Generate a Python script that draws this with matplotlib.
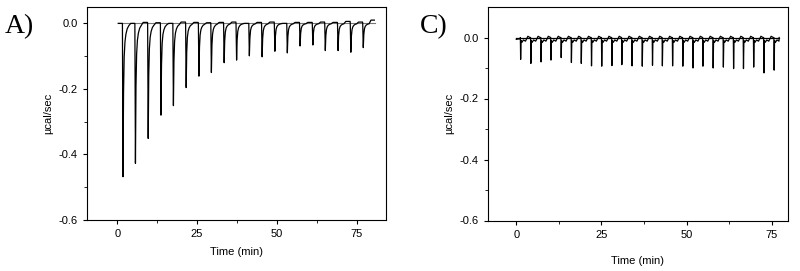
import numpy as np
import matplotlib.pyplot as plt

# panel A: injections every ~4 min, peak minima (ucal/sec)
a_times = [1.6, 5.5, 9.5, 13.5, 17.4, 21.4, 25.4, 29.3, 33.3, 37.2,
           41.2, 45.2, 49.2, 53.1, 57.1, 61.1, 65.0, 69.0, 73.0, 76.9]
a_depths = [-0.468, -0.427, -0.351, -0.280, -0.251, -0.196, -0.161, -0.150, -0.120, -0.112,
            -0.099, -0.102, -0.085, -0.090, -0.069, -0.066, -0.083, -0.083, -0.088, -0.074]
# value reached just before the next injection (small baseline drift)
a_rest = [0.000, 0.003, 0.002, 0.000, 0.004, 0.003, 0.002, 0.003, 0.004, 0.000,
          0.003, 0.004, 0.000, 0.003, 0.003, 0.004, 0.003, 0.006, 0.004, 0.010]
a_start, a_end = 0.3, 80.6
# recovery profile (time after injection, fraction of peak)
a_shape_dt = [0.0, 0.18, 0.35, 0.55, 0.8, 1.1, 1.5, 2.0, 2.6, 3.3]
a_shape_f = [0.0, 1.0, 0.45, 0.22, 0.12, 0.07, 0.035, 0.015, 0.0, 0.0]

# panel C: injections every ~3 min, small spikes
c_times = [1.2, 4.2, 7.2, 10.1, 13.1, 16.1, 19.0, 22.0, 25.0, 28.0,
           30.9, 33.9, 36.9, 39.9, 42.8, 45.8, 48.8, 51.8, 54.7, 57.7,
           60.7, 63.7, 66.6, 69.6, 72.6, 75.6]
c_depths = [-0.072, -0.085, -0.080, -0.074, -0.066, -0.082, -0.085, -0.093, -0.094, -0.092,
            -0.089, -0.093, -0.094, -0.091, -0.093, -0.093, -0.094, -0.100, -0.094, -0.100,
            -0.097, -0.102, -0.102, -0.097, -0.116, -0.107]
c_start, c_end = 0.0, 77.2
c_shape_dt = [0.0, 0.08, 0.2, 0.45, 0.9, 1.5, 2.2, 2.8]
c_shape_v = [0.0, None, -0.010, -0.016, -0.008, -0.012, 0.004, 0.0]


def trace_a():
    t = [a_start, a_times[0] - 0.05]
    y = [0.0, 0.0]
    for i, (t0, d) in enumerate(zip(a_times, a_depths)):
        nxt = a_times[i + 1] if i + 1 < len(a_times) else a_end
        for dt, f in zip(a_shape_dt, a_shape_f):
            if t0 + dt < nxt:
                t.append(t0 + dt)
                y.append(d * f + (a_rest[i] if f == 0 and dt > 0 else 0))
        t.append(nxt - 0.05)
        y.append(a_rest[i])
    return t, y


def trace_c():
    t = [c_start, c_times[0] - 0.05]
    y = [-0.006, -0.004]
    for i, (t0, d) in enumerate(zip(c_times, c_depths)):
        nxt = c_times[i + 1] if i + 1 < len(c_times) else c_end
        for dt, v in zip(c_shape_dt, c_shape_v):
            if t0 + dt < nxt:
                t.append(t0 + dt)
                y.append(d if v is None else v)
        t.append(nxt - 0.05)
        y.append(0.0)
    return t, y


fig = plt.figure(figsize=(8.0, 2.71), dpi=100)
plt.rcParams["font.family"] = "Liberation Sans"

ax_a = fig.add_axes([87 / 800, 1 - 220 / 271, 299 / 800, 213 / 271])
ax_c = fig.add_axes([488 / 800, 1 - 220.5 / 271, 299.5 / 800, 213.5 / 271])

ta, ya = trace_a()
ax_a.plot([a_start, a_end], [0, 0], color="#777777", lw=0.8)
ax_a.plot(ta, ya, color="black", lw=0.9)
ax_a.set_xlim(-9.5, 84.2)
ax_a.set_ylim(-0.6, 0.05)

tc, yc = trace_c()
ax_c.plot([c_start, c_end], [0, 0], color="black", lw=0.9)
ax_c.plot(tc, yc, color="black", lw=0.9)
ax_c.set_xlim(-8.3, 79.6)
ax_c.set_ylim(-0.6, 0.1)

for ax in (ax_a, ax_c):
    ax.set_xticks([0, 25, 50, 75])
    ax.set_xticks([12.5, 37.5, 62.5], minor=True)
    ax.set_yticks([-0.6, -0.4, -0.2, 0.0])
    ax.set_yticks([-0.5, -0.3, -0.1], minor=True)
    ax.set_yticklabels(["-0.6", "-0.4", "-0.2", "0.0"])
    ax.tick_params(labelsize=8, length=3, width=0.8, direction="out")
    ax.tick_params(which="minor", length=2, width=0.6)
    for sp in ax.spines.values():
        sp.set_linewidth(0.8)
    ax.set_ylabel("µcal/sec", fontsize=8, labelpad=4)

ax_a.set_xlabel("Time (min)", fontsize=8, labelpad=6)
ax_c.set_xlabel("Time (min)", fontsize=8, labelpad=12)

fig.text(5 / 800, 1 - 33 / 271, "A)", fontsize=20, family="Liberation Serif")
fig.text(420 / 800, 1 - 33 / 271, "C)", fontsize=20, family="Liberation Serif")

fig.savefig("out.png", dpi=100)
